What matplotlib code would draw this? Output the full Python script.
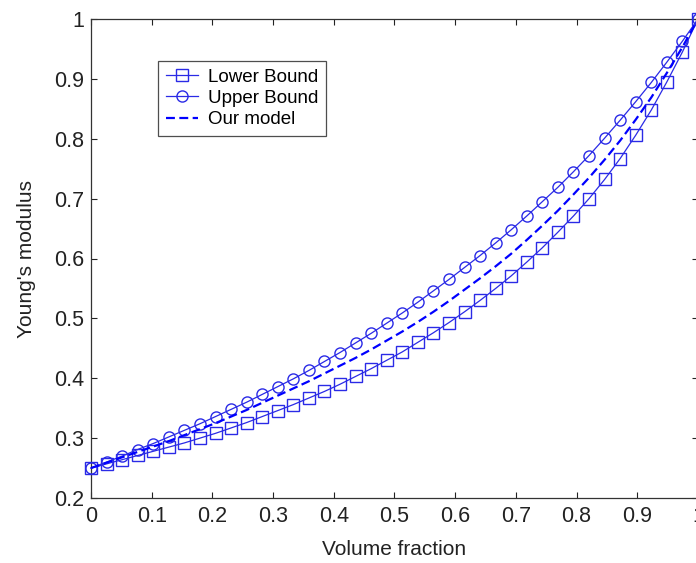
import numpy as np
import matplotlib
matplotlib.use("Agg")
import matplotlib.pyplot as plt

# Data (40 evenly spaced volume fractions 0..1)
volume_fraction = np.linspace(0, 1, 40)

lower_bound = [0.250, 0.257, 0.264, 0.271, 0.278, 0.285, 0.292, 0.300, 0.308, 0.317,
               0.326, 0.336, 0.346, 0.356, 0.367, 0.378, 0.390, 0.403, 0.416, 0.430,
               0.444, 0.460, 0.476, 0.493, 0.511, 0.530, 0.550, 0.571, 0.594, 0.618,
               0.644, 0.671, 0.700, 0.732, 0.767, 0.806, 0.848, 0.895, 0.945, 1.000]

upper_bound = [0.250, 0.260, 0.270, 0.281, 0.291, 0.302, 0.313, 0.324, 0.336, 0.348,
               0.360, 0.373, 0.386, 0.399, 0.413, 0.428, 0.443, 0.459, 0.475, 0.492,
               0.509, 0.527, 0.546, 0.565, 0.585, 0.605, 0.626, 0.648, 0.671, 0.695,
               0.719, 0.745, 0.772, 0.801, 0.831, 0.862, 0.894, 0.928, 0.963, 1.000]

our_model = [0.250, 0.259, 0.268, 0.277, 0.286, 0.295, 0.305, 0.315, 0.325, 0.336,
             0.347, 0.359, 0.371, 0.383, 0.395, 0.408, 0.421, 0.434, 0.448, 0.463,
             0.478, 0.494, 0.511, 0.529, 0.548, 0.567, 0.587, 0.608, 0.631, 0.655,
             0.680, 0.707, 0.735, 0.765, 0.797, 0.832, 0.869, 0.910, 0.953, 1.000]

x_ticks = [0, 0.1, 0.2, 0.3, 0.4, 0.5, 0.6, 0.7, 0.8, 0.9, 1.0]
x_tick_labels = ["0", "0.1", "0.2", "0.3", "0.4", "0.5", "0.6", "0.7", "0.8", "0.9", "1"]
y_ticks = [0.2, 0.3, 0.4, 0.5, 0.6, 0.7, 0.8, 0.9, 1.0]
y_tick_labels = ["0.2", "0.3", "0.4", "0.5", "0.6", "0.7", "0.8", "0.9", "1"]

plt.rcParams['font.family'] = ['Liberation Sans', 'DejaVu Sans']

W, H = 696, 563
fig = plt.figure(figsize=(W / 100, H / 100), dpi=100)
ax = fig.add_axes([91 / W, (H - 498) / H, (698 - 91) / W, (498 - 19) / H])

bound_color = '#2a2ae6'
ax.plot(volume_fraction, lower_bound, color=bound_color, lw=0.9, marker='s',
        markersize=8, mfc='none', mec=bound_color, mew=1.0, clip_on=False,
        label='Lower Bound', zorder=3)
ax.plot(volume_fraction, upper_bound, color=bound_color, lw=0.9, marker='o',
        markersize=8, mfc='none', mec=bound_color, mew=1.0, clip_on=False,
        label='Upper Bound', zorder=3)
ax.plot(volume_fraction, our_model, color='#0000ff', lw=1.6, linestyle=(0, (4, 2)),
        clip_on=False, label='Our model', zorder=4)

ax.set_xlim(0, 1)
ax.set_ylim(0.2, 1)
ax.set_xticks(x_ticks)
ax.set_xticklabels(x_tick_labels)
ax.set_yticks(y_ticks)
ax.set_yticklabels(y_tick_labels)

ax.tick_params(direction='in', length=4.5, width=0.8, top=True, right=True,
               labelsize=15.5, colors='#222222')
ax.tick_params(axis='x', pad=6)
ax.tick_params(axis='y', pad=5)
for s in ax.spines.values():
    s.set_linewidth(0.9)
    s.set_color('#333333')

ax.set_xlabel('Volume fraction', fontsize=15, color='#222222', labelpad=9)
ax.set_ylabel("Young's modulus", fontsize=15, color='#222222', labelpad=13)

leg = ax.legend(loc='upper left', bbox_to_anchor=((158 - 91) / 607, (498 - 61) / 479),
                fontsize=13.5, frameon=True, fancybox=False, handlelength=1.75,
                borderpad=0.4, labelspacing=0.22, handletextpad=0.5, borderaxespad=0)
leg.get_frame().set_edgecolor('#222222')
leg.get_frame().set_linewidth(0.9)

fig.savefig('out.png', dpi=100)
